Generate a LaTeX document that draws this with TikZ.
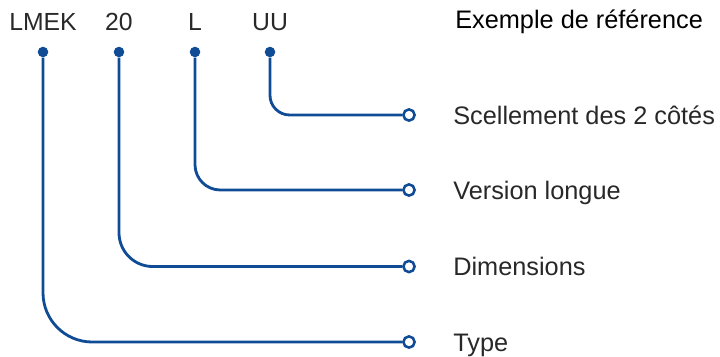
\documentclass[tikz,border=0pt]{standalone}
\usepackage{fontspec}
\setmainfont{Liberation Sans}
\usetikzlibrary{positioning}
\definecolor{codeblue}{RGB}{16,76,150}
\definecolor{txtgray}{RGB}{40,40,40}

\begin{document}
\begin{tikzpicture}[x=0.025cm,y=-0.025cm,
  code/.style={font=\fontsize{17.6}{20}\selectfont,text=txtgray,inner sep=0pt,anchor=base},
  lbl/.style={font=\fontsize{18}{20}\selectfont,text=txtgray,inner sep=0pt,anchor=base west},
  dot/.style={circle,fill=codeblue,inner sep=0pt,minimum size=7.5pt},
  ring/.style={circle,draw=codeblue,fill=white,line width=1.8pt,inner sep=0pt,minimum size=8pt},
  wire/.style={draw=codeblue,line width=2pt}]
\useasboundingbox (0,0) rectangle (720,356);
% code letters
\node[code] (lmek) at (43,30.5) {LMEK};
\node[code] (dim) at (119,30.5) {20};
\node[code] (ver) at (195,30.5) {L};
\node[code] (uu) at (270,30.5) {UU};
\node[lbl,text=black] (head) at (455,28) {Exemple de r\'ef\'erence};
% dots below the letters
\node[dot] (d1) at (43,52) {};
\node[dot] (d2) at (119,52) {};
\node[dot] (d3) at (195,52) {};
\node[dot] (d4) at (270,52) {};
% open ends
\node[ring] (e4) at (409,115) {};
\node[ring] (e3) at (409,190) {};
\node[ring] (e2) at (409,266.5) {};
\node[ring] (e1) at (409,342) {};
% meanings
\node[lbl] (t4) at (453,124) {Scellement des 2 c\^ot\'es};
\node[lbl] (t3) at (453,199) {Version longue};
\node[lbl] (t2) at (453,275.5) {Dimensions};
\node[lbl] (t1) at (453,351) {Type};
\draw[wire,rounded corners=14] (d4) |- (e4);
\draw[wire,rounded corners=18] (d3) |- (e3);
\draw[wire,rounded corners=24] (d2) |- (e2);
\draw[wire,rounded corners=35] (d1) |- (e1);
\end{tikzpicture}
\end{document}
